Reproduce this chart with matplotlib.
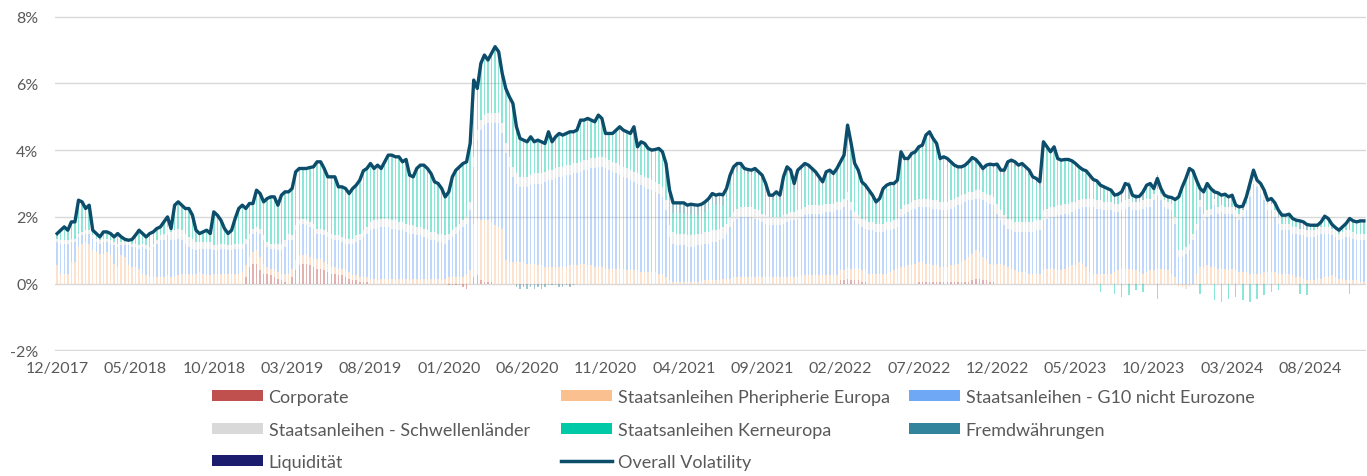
import numpy as np
import matplotlib.pyplot as plt
from matplotlib.patches import Patch
from matplotlib.lines import Line2D

# ------ Daten: woechentliche Beitraege zur Volatilitaet in % (12/2017 - 11/2024) ------
# jede Zeile = 22 Wochen, beginnend beim jeweiligen Achsenlabel

overall = [
    1.5, 1.6, 1.7, 1.6, 1.85, 1.85, 2.5, 2.45, 2.25, 2.35, 1.6, 1.5, 1.4, 1.55, 1.55, 1.5, 1.4, 1.5, 1.4, 1.33, 1.3, 1.32,
    1.45, 1.6, 1.5, 1.4, 1.5, 1.55, 1.65, 1.7, 1.85, 2.0, 1.65, 2.35, 2.45, 2.35, 2.25, 2.25, 2.05, 1.6, 1.5, 1.55, 1.6, 1.5,
    2.15, 2.05, 1.9, 1.65, 1.5, 1.6, 1.95, 2.25, 2.35, 2.25, 2.4, 2.4, 2.8, 2.7, 2.45, 2.55, 2.6, 2.6, 2.35, 2.65, 2.75, 2.75,
    2.85, 3.35, 3.45, 3.45, 3.45, 3.48, 3.5, 3.65, 3.65, 3.45, 3.2, 3.2, 3.2, 2.9, 2.9, 2.85, 2.7, 2.85, 2.95, 3.1, 3.38, 3.45,
    3.6, 3.45, 3.55, 3.45, 3.65, 3.85, 3.85, 3.8, 3.8, 3.65, 3.72, 3.25, 3.2, 3.45, 3.55, 3.55, 3.45, 3.3, 3.05, 3.0, 2.85, 2.6,
    2.75, 3.2, 3.4, 3.5, 3.6, 3.65, 4.2, 6.1, 5.85, 6.6, 6.85, 6.7, 6.9, 7.1, 6.95, 6.3, 5.85, 5.6, 5.4, 4.7, 4.35, 4.3,
    4.25, 4.4, 4.25, 4.3, 4.25, 4.2, 4.55, 4.25, 4.4, 4.5, 4.45, 4.5, 4.55, 4.55, 4.6, 4.9, 4.9, 4.95, 4.9, 4.85, 5.05, 4.95,
    4.5, 4.5, 4.5, 4.6, 4.7, 4.6, 4.55, 4.5, 4.7, 4.1, 4.25, 4.2, 4.05, 4.0, 4.02, 4.05, 3.95, 3.6, 2.8, 2.42, 2.42, 2.42,
    2.42, 2.35, 2.38, 2.36, 2.35, 2.38, 2.45, 2.55, 2.7, 2.65, 2.68, 2.66, 2.85, 3.25, 3.5, 3.6, 3.6, 3.45, 3.42, 3.4, 3.45, 3.35,
    3.25, 3.0, 2.65, 2.65, 2.75, 2.65, 3.2, 3.5, 3.4, 3.0, 3.4, 3.5, 3.6, 3.55, 3.45, 3.35, 3.2, 3.05, 3.35, 3.4, 3.3, 3.45,
    3.65, 3.85, 4.75, 4.2, 3.6, 3.4, 3.05, 2.95, 2.8, 2.65, 2.45, 2.55, 2.85, 2.95, 3.0, 3.0, 3.1, 3.95, 3.75, 3.75, 3.9, 3.95,
    4.1, 4.15, 4.45, 4.55, 4.35, 4.2, 3.75, 3.8, 3.75, 3.65, 3.55, 3.5, 3.5, 3.55, 3.65, 3.78, 3.72, 3.6, 3.45, 3.55, 3.58, 3.56,
    3.58, 3.4, 3.4, 3.65, 3.7, 3.65, 3.55, 3.6, 3.5, 3.4, 3.2, 3.15, 3.05, 4.25, 4.1, 3.95, 4.1, 3.75, 3.7, 3.72, 3.72, 3.68,
    3.6, 3.5, 3.42, 3.38, 3.25, 3.12, 3.08, 2.95, 2.9, 2.85, 2.8, 2.65, 2.68, 2.75, 3.0, 2.95, 2.65, 2.6, 2.62, 2.75, 2.95, 3.0,
    2.85, 3.15, 2.85, 2.65, 2.6, 2.58, 2.52, 2.6, 2.9, 3.15, 3.45, 3.38, 3.1, 2.85, 2.75, 3.0, 2.85, 2.75, 2.72, 2.65, 2.68, 2.6,
    2.65, 2.35, 2.3, 2.32, 2.6, 3.0, 3.4, 3.1, 3.0, 2.8, 2.5, 2.55, 2.42, 2.2, 2.05, 2.05, 2.08, 1.95, 1.9, 1.88, 1.85, 1.77,
    1.75, 1.75, 1.75, 1.85, 2.02, 1.95, 1.78, 1.68, 1.6, 1.7, 1.8, 1.95, 1.88, 1.85, 1.88, 1.88,
]

corporate = [
    0, 0, 0, 0, 0, 0, 0, 0, 0, 0, 0, 0, 0, 0, 0, 0, 0, 0, 0, 0, 0, 0,
    0, 0, 0, 0, 0, 0, 0, 0, 0, 0, 0, 0, 0, 0, 0, 0, 0, 0, 0, 0, 0, 0,
    0, 0, 0, 0, 0, 0, 0, 0, 0, 0.2, 0.5, 0.6, 0.6, 0.4, 0.3, 0.3, 0.25, 0.2, 0.15, 0.1, 0.05, 0,
    0.2, 0.4, 0.55, 0.6, 0.6, 0.55, 0.5, 0.45, 0.45, 0.4, 0.35, 0.3, 0.3, 0.25, 0.25, 0.2, 0.15, 0.1, 0.1, 0.05, 0.05, 0.05,
    0, 0, 0, 0, 0, 0, 0, 0, 0, 0, 0, 0, 0, 0, 0, 0, 0, 0, 0, 0, 0, 0,
    -0.05, -0.05, -0.05, -0.05, -0.1, -0.15, 0, 0.2, 0.25, 0.1, 0.05, 0.05, 0.05, 0, 0, 0, 0, 0, 0, 0, 0, 0,
    0, 0, 0, 0, 0, 0, 0, 0, 0, 0, 0, 0, 0, 0, 0, 0, 0, 0, 0, 0, 0, 0,
    0, 0, 0, 0, 0, 0, 0, 0, 0, 0, 0, 0, 0, 0, 0, 0, 0, 0, 0, 0, 0, 0,
    0, 0, 0, 0, 0, 0, 0, 0, 0, 0, 0, 0, 0, 0, 0, 0, 0, 0, 0, 0, 0, 0,
    0, 0, 0, 0, 0, 0, 0, 0, 0, 0, 0, 0, 0, 0, 0, 0, 0, 0, 0, 0, 0, 0,
    0.1, 0.1, 0.15, 0.1, 0.1, 0.1, 0.05, 0.05, 0, 0, 0, 0, 0, 0, 0, 0, 0, 0, 0, 0, 0, 0,
    0.05, 0.05, 0.05, 0.05, 0.05, 0.05, 0.05, 0.05, 0.05, 0.05, 0.05, 0.05, 0.05, 0.05, 0.05, 0.1, 0.15, 0.15, 0.1, 0.1, 0.05, 0.05,
    0, 0, 0, 0, 0, 0, 0, 0, 0, 0, 0, 0, 0, 0, 0, 0, 0, 0, 0, 0, 0, 0,
    0, 0, 0, 0, 0, 0, 0, 0, 0, 0, 0, 0, 0, 0, 0, 0, 0, 0, 0, 0, 0, 0,
    0, 0, 0, 0, 0, 0, 0, 0, 0, 0, 0, 0, 0, 0, 0, 0, 0, 0, 0, 0, 0, 0,
    0, 0, 0, 0, 0, 0, 0, 0, 0, 0, 0, 0, 0, 0, 0, 0, 0, 0, 0, 0, 0, 0,
    0, 0, 0, 0, 0, 0, 0, 0, 0, 0, 0, 0, 0, 0, 0, 0,
]

peripherie = [
    0.55, 0.3, 0.3, 0.3, 0.65, 0.65, 1.1, 1.2, 1.25, 1.2, 1.0, 0.95, 0.9, 0.9, 0.95, 0.85, 0.6, 0.5, 0.85, 0.8, 0.55, 0.5,
    0.5, 0.45, 0.3, 0.25, 0.2, 0.2, 0.2, 0.2, 0.2, 0.25, 0.2, 0.2, 0.25, 0.3, 0.3, 0.3, 0.25, 0.3, 0.35, 0.3, 0.25, 0.25,
    0.3, 0.3, 0.3, 0.3, 0.3, 0.3, 0.3, 0.3, 0.35, 0.35, 0.3, 0.35, 0.4, 0.4, 0.3, 0.2, 0.2, 0.2, 0.2, 0.2, 0.25, 0.3,
    0.25, 0.3, 0.3, 0.25, 0.25, 0.25, 0.25, 0.3, 0.3, 0.25, 0.25, 0.2, 0.2, 0.2, 0.2, 0.2, 0.2, 0.15, 0.15, 0.15, 0.15, 0.15,
    0.15, 0.15, 0.15, 0.15, 0.15, 0.15, 0.15, 0.15, 0.15, 0.15, 0.15, 0.15, 0.15, 0.15, 0.15, 0.15, 0.15, 0.15, 0.15, 0.15, 0.15, 0.15,
    0.2, 0.2, 0.2, 0.2, 0.2, 0.25, 0.4, 1.6, 1.7, 1.8, 1.85, 1.85, 1.8, 1.75, 1.7, 1.65, 0.7, 0.65, 0.65, 0.65, 0.65, 0.65,
    0.6, 0.6, 0.6, 0.55, 0.55, 0.5, 0.5, 0.5, 0.5, 0.5, 0.5, 0.5, 0.55, 0.55, 0.55, 0.6, 0.6, 0.55, 0.55, 0.5, 0.5, 0.5,
    0.45, 0.45, 0.45, 0.45, 0.45, 0.45, 0.4, 0.4, 0.4, 0.4, 0.35, 0.35, 0.35, 0.35, 0.35, 0.3, 0.3, 0.2, 0.1, 0.05, 0.05, 0.05,
    0.05, 0.05, 0.05, 0.05, 0.05, 0.08, 0.1, 0.1, 0.1, 0.1, 0.12, 0.15, 0.15, 0.15, 0.2, 0.2, 0.2, 0.2, 0.2, 0.2, 0.2, 0.2,
    0.2, 0.2, 0.2, 0.2, 0.2, 0.2, 0.2, 0.2, 0.2, 0.2, 0.2, 0.25, 0.25, 0.25, 0.25, 0.25, 0.25, 0.25, 0.25, 0.25, 0.25, 0.25,
    0.3, 0.3, 0.35, 0.35, 0.35, 0.35, 0.35, 0.35, 0.3, 0.3, 0.3, 0.3, 0.3, 0.3, 0.35, 0.4, 0.45, 0.5, 0.5, 0.55, 0.55, 0.6,
    0.6, 0.6, 0.55, 0.55, 0.5, 0.5, 0.45, 0.45, 0.45, 0.5, 0.5, 0.55, 0.6, 0.65, 0.75, 0.8, 0.85, 0.8, 0.7, 0.6, 0.55, 0.5,
    0.6, 0.6, 0.55, 0.5, 0.45, 0.4, 0.35, 0.35, 0.35, 0.3, 0.3, 0.3, 0.3, 0.4, 0.45, 0.45, 0.45, 0.4, 0.4, 0.45, 0.5, 0.55,
    0.55, 0.65, 0.6, 0.5, 0.35, 0.3, 0.3, 0.3, 0.3, 0.3, 0.3, 0.35, 0.4, 0.45, 0.45, 0.45, 0.4, 0.4, 0.35, 0.3, 0.35, 0.4,
    0.4, 0.45, 0.45, 0.4, 0.4, 0.3, 0.2, -0.1, -0.1, -0.15, -0.1, -0.05, 0.3, 0.5, 0.5, 0.55, 0.5, 0.5, 0.45, 0.45, 0.45, 0.4,
    0.45, 0.4, 0.35, 0.35, 0.35, 0.3, 0.3, 0.3, 0.3, 0.35, 0.35, 0.35, 0.35, 0.3, 0.3, 0.3, 0.3, 0.25, 0.2, 0.2, 0.15, 0.1,
    0.1, 0.1, 0.15, 0.15, 0.2, 0.2, 0.25, 0.2, 0.15, 0.15, 0.1, 0.1, 0.1, 0.1, 0.05, 0.05,
]

g10 = [
    0.7, 0.9, 0.9, 0.9, 0.6, 0.6, 0.3, 0.25, 0.25, 0.3, 0.35, 0.3, 0.3, 0.35, 0.3, 0.35, 0.55, 0.6, 0.3, 0.35, 0.6, 0.6,
    0.6, 0.6, 0.8, 0.8, 0.8, 0.9, 1.0, 1.1, 1.1, 1.2, 1.1, 1.1, 1.1, 1.0, 0.9, 0.8, 0.8, 0.7, 0.7, 0.75, 0.8, 0.8,
    0.7, 0.7, 0.75, 0.75, 0.7, 0.7, 0.75, 0.75, 0.7, 0.65, 0.55, 0.55, 0.55, 0.7, 0.7, 0.6, 0.6, 0.65, 0.65, 0.7, 0.8, 1.0,
    0.85, 0.9, 0.9, 0.95, 0.9, 0.9, 0.9, 0.75, 0.75, 0.8, 0.8, 0.85, 0.8, 0.85, 0.8, 0.8, 0.85, 0.95, 1.0, 1.1, 1.2, 1.3,
    1.45, 1.5, 1.5, 1.55, 1.55, 1.55, 1.5, 1.5, 1.45, 1.45, 1.4, 1.35, 1.35, 1.3, 1.3, 1.25, 1.2, 1.15, 1.15, 1.1, 1.1, 1.05,
    1.1, 1.2, 1.3, 1.4, 1.5, 1.55, 1.8, 1.7, 2.35, 2.7, 2.85, 2.9, 2.95, 3.05, 3.1, 2.85, 3.2, 2.85, 2.55, 2.35, 2.25, 2.25,
    2.3, 2.35, 2.4, 2.45, 2.45, 2.55, 2.6, 2.6, 2.65, 2.7, 2.7, 2.75, 2.7, 2.75, 2.75, 2.75, 2.8, 2.85, 2.9, 2.95, 3.0, 3.0,
    3.0, 2.95, 2.9, 2.85, 2.8, 2.75, 2.75, 2.7, 2.65, 2.6, 2.6, 2.55, 2.5, 2.45, 2.4, 2.4, 2.3, 2.0, 1.3, 1.15, 1.1, 1.1,
    1.1, 1.05, 1.05, 1.05, 1.1, 1.07, 1.1, 1.1, 1.15, 1.15, 1.18, 1.2, 1.35, 1.55, 1.65, 1.75, 1.8, 1.8, 1.8, 1.8, 1.75, 1.7,
    1.65, 1.6, 1.55, 1.55, 1.55, 1.55, 1.6, 1.65, 1.7, 1.7, 1.75, 1.75, 1.8, 1.85, 1.85, 1.85, 1.85, 1.85, 1.9, 1.9, 1.9, 1.95,
    1.8, 1.9, 2.0, 1.75, 1.45, 1.35, 1.3, 1.25, 1.3, 1.3, 1.25, 1.25, 1.25, 1.3, 1.25, 1.25, 1.25, 1.5, 1.6, 1.6, 1.65, 1.65,
    1.65, 1.65, 1.7, 1.7, 1.7, 1.7, 1.7, 1.7, 1.7, 1.7, 1.75, 1.75, 1.75, 1.75, 1.7, 1.6, 1.55, 1.6, 1.7, 1.75, 1.8, 1.8,
    1.5, 1.3, 1.2, 1.15, 1.15, 1.15, 1.2, 1.2, 1.2, 1.25, 1.25, 1.3, 1.3, 1.5, 1.5, 1.55, 1.55, 1.65, 1.65, 1.65, 1.6, 1.6,
    1.65, 1.6, 1.7, 1.8, 1.95, 2.0, 1.95, 1.95, 1.9, 1.9, 1.9, 1.8, 1.75, 1.75, 1.8, 1.85, 1.8, 1.8, 1.85, 1.95, 1.95, 1.9,
    2.1, 2.2, 2.05, 1.9, 1.85, 1.9, 1.6, 0.8, 0.8, 0.9, 1.0, 1.3, 1.3, 1.8, 1.4, 1.45, 1.55, 1.85, 1.65, 1.7, 1.65, 1.7,
    1.65, 1.6, 1.55, 1.65, 1.85, 2.3, 2.7, 2.6, 2.4, 2.15, 1.85, 1.85, 1.65, 1.5, 1.3, 1.3, 1.3, 1.25, 1.3, 1.25, 1.3, 1.3,
    1.3, 1.3, 1.3, 1.35, 1.3, 1.3, 1.2, 1.2, 1.15, 1.2, 1.3, 1.3, 1.25, 1.2, 1.25, 1.25,
]

schwellen = [
    0.1, 0.1, 0.1, 0.1, 0.1, 0.1, 0.1, 0.1, 0.1, 0.1, 0.1, 0.1, 0.1, 0.1, 0.1, 0.1, 0.1, 0.1, 0.1, 0.1, 0.1, 0.1,
    0.1, 0.1, 0.1, 0.1, 0.1, 0.1, 0.1, 0.15, 0.2, 0.25, 0.25, 0.3, 0.3, 0.3, 0.3, 0.3, 0.3, 0.25, 0.2, 0.2, 0.2, 0.2,
    0.15, 0.15, 0.15, 0.15, 0.15, 0.15, 0.15, 0.15, 0.15, 0.15, 0.15, 0.15, 0.15, 0.15, 0.15, 0.15, 0.15, 0.15, 0.2, 0.2, 0.2, 0.2,
    0.15, 0.15, 0.15, 0.15, 0.15, 0.15, 0.15, 0.15, 0.15, 0.15, 0.15, 0.15, 0.15, 0.15, 0.15, 0.15, 0.15, 0.15, 0.2, 0.2, 0.2, 0.2,
    0.25, 0.25, 0.25, 0.25, 0.25, 0.25, 0.25, 0.25, 0.25, 0.25, 0.25, 0.25, 0.25, 0.25, 0.25, 0.25, 0.25, 0.25, 0.25, 0.25, 0.25, 0.25,
    0.2, 0.2, 0.2, 0.2, 0.2, 0.2, 0.25, 0.3, 0.3, 0.3, 0.3, 0.3, 0.3, 0.3, 0.3, 0.3, 0.3, 0.3, 0.3, 0.3, 0.3, 0.3,
    0.3, 0.3, 0.3, 0.3, 0.3, 0.3, 0.3, 0.3, 0.3, 0.3, 0.3, 0.3, 0.3, 0.3, 0.3, 0.3, 0.3, 0.3, 0.3, 0.3, 0.3, 0.3,
    0.3, 0.3, 0.3, 0.3, 0.3, 0.3, 0.3, 0.3, 0.3, 0.3, 0.3, 0.3, 0.3, 0.3, 0.3, 0.3, 0.3, 0.3, 0.35, 0.35, 0.35, 0.35,
    0.35, 0.35, 0.35, 0.35, 0.35, 0.35, 0.35, 0.35, 0.35, 0.35, 0.35, 0.35, 0.3, 0.3, 0.3, 0.3, 0.3, 0.3, 0.3, 0.3, 0.3, 0.3,
    0.25, 0.25, 0.25, 0.25, 0.25, 0.25, 0.25, 0.25, 0.25, 0.25, 0.25, 0.25, 0.25, 0.25, 0.25, 0.25, 0.25, 0.25, 0.25, 0.25, 0.25, 0.25,
    0.25, 0.25, 0.25, 0.25, 0.25, 0.25, 0.25, 0.25, 0.25, 0.25, 0.25, 0.25, 0.25, 0.25, 0.25, 0.25, 0.25, 0.25, 0.25, 0.25, 0.25, 0.25,
    0.25, 0.25, 0.25, 0.25, 0.25, 0.25, 0.25, 0.25, 0.25, 0.25, 0.25, 0.25, 0.25, 0.25, 0.25, 0.25, 0.25, 0.25, 0.25, 0.25, 0.25, 0.25,
    0.3, 0.3, 0.3, 0.3, 0.3, 0.3, 0.3, 0.3, 0.3, 0.3, 0.3, 0.3, 0.3, 0.3, 0.3, 0.3, 0.3, 0.3, 0.3, 0.3, 0.3, 0.3,
    0.25, 0.25, 0.25, 0.25, 0.25, 0.25, 0.25, 0.25, 0.25, 0.25, 0.25, 0.25, 0.25, 0.25, 0.25, 0.25, 0.25, 0.25, 0.25, 0.25, 0.25, 0.25,
    0.2, 0.2, 0.2, 0.2, 0.2, 0.2, 0.2, 0.2, 0.2, 0.2, 0.2, 0.2, 0.2, 0.2, 0.2, 0.2, 0.2, 0.2, 0.2, 0.2, 0.2, 0.2,
    0.2, 0.2, 0.2, 0.2, 0.2, 0.2, 0.2, 0.2, 0.2, 0.2, 0.2, 0.2, 0.2, 0.2, 0.2, 0.2, 0.2, 0.2, 0.2, 0.2, 0.2, 0.2,
    0.2, 0.2, 0.2, 0.2, 0.2, 0.2, 0.2, 0.2, 0.2, 0.2, 0.2, 0.2, 0.2, 0.2, 0.2, 0.2,
]

kerneuropa = [
    0.15, 0.3, 0.4, 0.3, 0.5, 0.5, 1.0, 0.9, 0.65, 0.75, 0.15, 0.15, 0.1, 0.2, 0.2, 0.2, 0.15, 0.3, 0.15, 0.08, 0.05, 0.12,
    0.25, 0.45, 0.3, 0.25, 0.4, 0.35, 0.35, 0.25, 0.35, 0.3, 0.1, 0.75, 0.8, 0.75, 0.75, 0.85, 0.7, 0.35, 0.25, 0.3, 0.35, 0.25,
    1.0, 0.9, 0.7, 0.45, 0.35, 0.45, 0.75, 1.05, 1.15, 0.9, 0.9, 0.75, 1.1, 1.05, 1.0, 1.3, 1.4, 1.4, 1.15, 1.45, 1.45, 1.25,
    1.4, 1.6, 1.55, 1.5, 1.55, 1.63, 1.7, 2.0, 2.0, 1.85, 1.65, 1.7, 1.75, 1.45, 1.5, 1.5, 1.35, 1.5, 1.5, 1.6, 1.78, 1.75,
    1.75, 1.55, 1.65, 1.5, 1.7, 1.9, 1.95, 1.9, 1.95, 1.8, 1.92, 1.5, 1.45, 1.75, 1.85, 1.9, 1.85, 1.75, 1.5, 1.5, 1.35, 1.15,
    1.25, 1.6, 1.7, 1.7, 1.7, 1.65, 1.75, 2.3, 1.25, 1.7, 1.8, 1.6, 1.8, 2.0, 1.85, 1.5, 1.65, 1.8, 1.9, 1.4, 1.15, 1.1,
    1.05, 1.15, 0.95, 1.0, 0.95, 0.85, 1.15, 0.85, 0.95, 1.0, 0.95, 0.95, 1.0, 0.95, 1.0, 1.25, 1.2, 1.25, 1.15, 1.1, 1.25, 1.15,
    0.75, 0.8, 0.85, 1.0, 1.15, 1.1, 1.1, 1.1, 1.35, 0.8, 1.0, 1.0, 0.9, 0.9, 0.97, 1.05, 1.05, 1.1, 0.75, 0.57, 0.62, 0.62,
    0.62, 0.6, 0.63, 0.61, 0.55, 0.58, 0.6, 0.7, 0.8, 0.75, 0.73, 0.66, 0.8, 1.0, 1.1, 1.1, 1.15, 1.0, 0.97, 0.95, 1.05, 1.0,
    1.0, 0.8, 0.5, 0.5, 0.6, 0.5, 1.0, 1.25, 1.1, 0.7, 1.05, 1.1, 1.15, 1.05, 0.95, 0.85, 0.7, 0.55, 0.8, 0.85, 0.75, 0.85,
    1.1, 1.2, 1.9, 1.65, 1.35, 1.25, 1.0, 0.95, 0.85, 0.7, 0.55, 0.65, 0.95, 1.0, 1.05, 1.0, 1.05, 1.6, 1.3, 1.25, 1.35, 1.35,
    1.45, 1.5, 1.8, 1.9, 1.75, 1.6, 1.2, 1.25, 1.2, 1.05, 0.9, 0.8, 0.75, 0.75, 0.8, 0.93, 0.82, 0.7, 0.6, 0.75, 0.83, 0.86,
    1.03, 1.05, 1.2, 1.55, 1.65, 1.65, 1.55, 1.6, 1.5, 1.4, 1.2, 1.1, 1.0, 2.0, 1.8, 1.6, 1.75, 1.35, 1.3, 1.27, 1.27, 1.18,
    1.1, 0.95, 0.82, 0.78, 0.65, 0.52, 0.53, -0.25, 0.4, 0.35, 0.3, -0.3, 0.23, -0.4, 0.45, -0.35, 0.15, -0.2, 0.12, -0.25, 0.35, 0.4,
    0.1, -0.45, 0.1, 0.1, 0.1, 0.13, 0.47, 1.55, 1.85, 2.0, 2.2, 1.83, 1.25, -0.3, 0.6, 0.75, 0.55, -0.5, 0.37, -0.55, 0.33, -0.45,
    0.3, -0.4, 0.15, -0.5, 0.15, -0.55, 0.15, -0.45, 0.05, -0.35, 0.05, -0.25, 0.17, -0.2, 0.2, 0.2, 0.23, 0.2, 0.15, -0.3, 0.15, -0.35,
    0.1, 0.1, 0.05, 0.1, 0.27, 0.2, 0.08, 0.03, 0.05, 0.1, 0.15, -0.3, 0.28, 0.3, 0.33, 0.33,
]

fremdwaehrungen = [
    0, 0, 0, 0, 0, 0, 0, 0, 0, 0, 0, 0, 0, 0, 0, 0, 0, 0, 0, 0, 0, 0,
    0, 0, 0, 0, 0, 0, 0, 0, 0, 0, 0, 0, 0, 0, 0, 0, 0, 0, 0, 0, 0, 0,
    0, 0, 0, 0, 0, 0, 0, 0, 0, 0, 0, 0, 0, 0, 0, 0, 0, 0, 0, 0, 0, 0,
    0, 0, 0, 0, 0, 0, 0, 0, 0, 0, 0, 0, 0, 0, 0, 0, 0, 0, 0, 0, 0, 0,
    0, 0, 0, 0, 0, 0, 0, 0, 0, 0, 0, 0, 0, 0, 0, 0, 0, 0, 0, 0, 0, 0,
    0, 0, 0, 0, 0, 0, 0, 0, 0, 0, 0, 0, 0, 0, 0, 0, 0, 0, 0, -0.1, -0.15, -0.1,
    -0.15, -0.1, -0.15, -0.1, -0.15, -0.1, -0.05, -0.05, -0.05, -0.1, -0.1, -0.05, -0.1, -0.05, 0, 0, 0, 0, 0, 0, 0, 0,
    0, 0, 0, 0, 0, 0, 0, 0, 0, 0, 0, 0, 0, 0, 0, 0, 0, 0, 0.3, 0.3, 0.3, 0.3,
    0.3, 0.3, 0.3, 0.3, 0.3, 0.3, 0.3, 0.3, 0.3, 0.3, 0.3, 0.3, 0.25, 0.25, 0.25, 0.25, 0.15, 0.15, 0.15, 0.15, 0.15, 0.15,
    0.15, 0.15, 0.15, 0.15, 0.15, 0.15, 0.15, 0.15, 0.15, 0.15, 0.15, 0.15, 0.15, 0.15, 0.15, 0.15, 0.15, 0.15, 0.15, 0.15, 0.15, 0.15,
    0.1, 0.1, 0.1, 0.1, 0.1, 0.1, 0.1, 0.1, 0.1, 0.1, 0.1, 0.1, 0.1, 0.1, 0.1, 0.1, 0.1, 0.1, 0.1, 0.1, 0.1, 0.1,
    0.1, 0.1, 0.1, 0.1, 0.1, 0.1, 0.1, 0.1, 0.1, 0.1, 0.1, 0.1, 0.1, 0.1, 0.1, 0.1, 0.1, 0.1, 0.1, 0.1, 0.1, 0.1,
    0.15, 0.15, 0.15, 0.15, 0.15, 0.15, 0.15, 0.15, 0.15, 0.15, 0.15, 0.15, 0.15, 0.05, 0.05, 0.05, 0.05, 0.05, 0.05, 0.05, 0.05, 0.05,
    0.05, 0.05, 0.05, 0.05, 0.05, 0.05, 0.05, 0.55, 0.05, 0.05, 0.05, 0.35, 0.05, 0.4, 0.05, 0.5, 0.05, 0.25, 0.05, 0.35, 0.05, 0.05,
    0.05, 0.4, 0.05, 0.05, 0.05, 0.05, 0.05, 0.05, 0.05, 0.05, 0.05, 0.05, 0.05, 0.3, 0.05, 0.05, 0.05, 0.3, 0.05, 0.3, 0.05, 0.3,
    0.05, 0.2, 0.05, 0.15, 0.05, 0.2, 0.05, 0.05, 0.05, 0.1, 0.05, 0.15, 0.05, 0.2, 0.05, 0.05, 0.05, 0.05, 0.05, 0.23, 0.05, 0.17,
    0.05, 0.05, 0.05, 0.05, 0.05, 0.05, 0.05, 0.05, 0.05, 0.05, 0.05, 0.35, 0.05, 0.05, 0.05, 0.05,
]

liquiditaet = [0.0] * len(overall)

tick_labels = ["12/2017", "05/2018", "10/2018", "03/2019", "08/2019", "01/2020", "06/2020",
               "11/2020", "04/2021", "09/2021", "02/2022", "07/2022", "12/2022", "05/2023",
               "10/2023", "03/2024", "08/2024"]
tick_step = 22

series = [
    ("Corporate", corporate, "#c0504d"),
    ("Staatsanleihen Pheripherie Europa", peripherie, "#fac090"),
    ("Staatsanleihen - G10 nicht Eurozone", g10, "#6fa8f5"),
    ("Staatsanleihen - Schwellenländer", schwellen, "#d9d9d9"),
    ("Staatsanleihen Kerneuropa", kerneuropa, "#00c9a7"),
    ("Fremdwährungen", fremdwaehrungen, "#31849b"),
    ("Liquidität", liquiditaet, "#1c1c6e"),
]
line_color = "#0b4d6b"
text_color = "#595959"

plt.rcParams['font.family'] = ['Lato', 'DejaVu Sans']

#------Graficar----------
fig = plt.figure(figsize=(13.67, 4.77), dpi=100)
ax = fig.add_axes([55 / 1367, 1 - 352 / 477, (1366 - 55) / 1367, (352 - 17) / 477])

x = np.arange(len(overall))
pos_base = np.zeros(len(x))
neg_base = np.zeros(len(x))
for name, vals, col in series:
    v = np.array(vals, dtype=float)
    bottom = np.where(v >= 0, pos_base, neg_base)
    ax.bar(x, v, bottom=bottom, width=0.42, color=col, alpha=0.45, linewidth=0, zorder=2)
    pos_base += np.clip(v, 0, None)
    neg_base += np.clip(v, None, 0)

ax.plot(x, overall, color=line_color, lw=2.4, zorder=5, solid_joinstyle='round')

ax.set_xlim(-0.6, len(x) - 0.4)
ax.set_ylim(-2.02, 8.02)
ax.set_yticks([-2, 0, 2, 4, 6, 8])
ax.set_yticklabels([f"{t}%" for t in [-2, 0, 2, 4, 6, 8]])
ax.set_xticks(x[::tick_step])
ax.set_xticklabels(tick_labels)
ax.yaxis.grid(True, color='#d9d9d9', lw=1.0)
ax.set_axisbelow(True)
for s in ax.spines.values():
    s.set_visible(False)
ax.tick_params(length=0, colors=text_color, labelsize=11.5)
ax.tick_params(axis='y', pad=12)
ax.tick_params(axis='x', pad=7)

# Legende in drei Spalten
handles = {name: Patch(facecolor=col, edgecolor='none') for name, _, col in series}
handles["Overall Volatility"] = Line2D([0], [0], color=line_color, lw=2.5)
columns = [
    (212, ["Corporate", "Staatsanleihen - Schwellenländer", "Liquidität"]),
    (561, ["Staatsanleihen Pheripherie Europa", "Staatsanleihen Kerneuropa", "Overall Volatility"]),
    (909, ["Staatsanleihen - G10 nicht Eurozone", "Fremdwährungen"]),
]
for xpix, names in columns:
    leg = fig.legend([handles[n] for n in names], names, loc='upper left',
                     bbox_to_anchor=(xpix / 1367, 1 - 390 / 477), frameon=False,
                     borderpad=0, borderaxespad=0, handlelength=2.8, handleheight=0.55,
                     handletextpad=0.33, labelspacing=0.92, fontsize=13)
    for t in leg.get_texts():
        t.set_color(text_color)

fig.savefig("out.png", dpi=100)
